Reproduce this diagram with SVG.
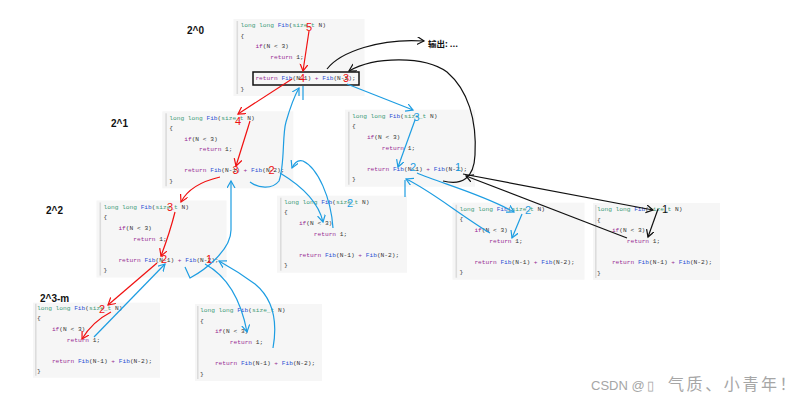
<svg xmlns="http://www.w3.org/2000/svg" width="812" height="404" viewBox="0 0 812 404">
<style>
.bg{fill:#f6f6f6}
.bar{fill:#dcdcdc}
.c{font-family:"Liberation Mono",monospace;font-size:6.2px;fill:#333}
.k{fill:#3d9a76}
.f{fill:#2b4fd4}
.p{fill:#972a93}
.lvl{font-family:"Liberation Sans",Arial,sans-serif;font-size:10px;font-weight:bold;fill:#111}
.num{font-family:"Liberation Sans",Arial,sans-serif;font-size:11px;text-anchor:middle}
.r{fill:none;stroke:#f01010;stroke-width:1.2}
.b{fill:none;stroke:#1d9de2;stroke-width:1.2}
.blk{fill:none;stroke:#111;stroke-width:1.2}
</style>
<defs>
<marker id="mr" markerUnits="userSpaceOnUse" markerWidth="10" markerHeight="10" refX="7" refY="4" orient="auto" viewBox="0 0 10 10"><path d="M0,0 L7,4 L0,8" fill="none" stroke="#f01010" stroke-width="1.2"/></marker>
<marker id="mb" markerUnits="userSpaceOnUse" markerWidth="10" markerHeight="10" refX="7" refY="4" orient="auto" viewBox="0 0 10 10"><path d="M0,0 L7,4 L0,8" fill="none" stroke="#1d9de2" stroke-width="1.2"/></marker>
<marker id="mk" markerUnits="userSpaceOnUse" markerWidth="10" markerHeight="10" refX="7" refY="4" orient="auto" viewBox="0 0 10 10"><path d="M0,0 L7,4 L0,8" fill="none" stroke="#111" stroke-width="1.2"/></marker>
</defs>
<rect width="812" height="404" fill="#ffffff"/>

<g id="levels">
<text class="lvl" x="187" y="34">2^0</text>
<text class="lvl" x="111" y="127">2^1</text>
<text class="lvl" x="46" y="214">2^2</text>
<text class="lvl" x="40" y="302">2^3-m</text>
</g>

<g id="nodeA" transform="translate(240.5,25)">
<rect class="bg" x="-7" y="-6" width="131" height="77"/><rect class="bar" x="-4" y="-4" width="1.6" height="73"/>
<text class="c" y="2.2"><tspan class="k">long long</tspan> <tspan class="f">Fib</tspan>(<tspan class="k">size_t</tspan> N)</text>
<text class="c" y="12.8">{</text>
<text class="c" x="14.9" y="23.4"><tspan class="p">if</tspan>(N &lt; 3)</text>
<text class="c" x="29.8" y="34"><tspan class="p">return</tspan> 1;</text>
<text class="c" x="14.9" y="55.2"><tspan class="p">return</tspan> <tspan class="f">Fib</tspan>(N-1) <tspan class="p">+</tspan> <tspan class="f">Fib</tspan>(N-2);</text>
<text class="c" y="65.8">}</text>
</g>

<g id="nodeB" transform="translate(169.3,117.3)">
<rect class="bg" x="-7" y="-6" width="131" height="77"/><rect class="bar" x="-4" y="-4" width="1.6" height="73"/>
<text class="c" y="2.2"><tspan class="k">long long</tspan> <tspan class="f">Fib</tspan>(<tspan class="k">size_t</tspan> N)</text>
<text class="c" y="12.8">{</text>
<text class="c" x="14.9" y="23.4"><tspan class="p">if</tspan>(N &lt; 3)</text>
<text class="c" x="29.8" y="34"><tspan class="p">return</tspan> 1;</text>
<text class="c" x="14.9" y="55.2"><tspan class="p">return</tspan> <tspan class="f">Fib</tspan>(N-1) <tspan class="p">+</tspan> <tspan class="f">Fib</tspan>(N-2);</text>
<text class="c" y="65.8">}</text>
</g>

<g id="nodeC" transform="translate(352,115.7)">
<rect class="bg" x="-7" y="-6" width="130" height="77"/><rect class="bar" x="-4" y="-4" width="1.6" height="73"/>
<text class="c" y="2.2"><tspan class="k">long long</tspan> <tspan class="f">Fib</tspan>(<tspan class="k">size_t</tspan> N)</text>
<text class="c" y="12.8">{</text>
<text class="c" x="14.9" y="23.4"><tspan class="p">if</tspan>(N &lt; 3)</text>
<text class="c" x="29.8" y="34"><tspan class="p">return</tspan> 1;</text>
<text class="c" x="14.9" y="55.2"><tspan class="p">return</tspan> <tspan class="f">Fib</tspan>(N-1) <tspan class="p">+</tspan> <tspan class="f">Fib</tspan>(N-2);</text>
<text class="c" y="65.8">}</text>
</g>

<g id="nodeD" transform="translate(103.5,206.5)">
<rect class="bg" x="-7" y="-6" width="130" height="77"/><rect class="bar" x="-4" y="-4" width="1.6" height="73"/>
<text class="c" y="2.2"><tspan class="k">long long</tspan> <tspan class="f">Fib</tspan>(<tspan class="k">size_t</tspan> N)</text>
<text class="c" y="12.8">{</text>
<text class="c" x="14.9" y="23.4"><tspan class="p">if</tspan>(N &lt; 3)</text>
<text class="c" x="29.8" y="34"><tspan class="p">return</tspan> 1;</text>
<text class="c" x="14.9" y="55.2"><tspan class="p">return</tspan> <tspan class="f">Fib</tspan>(N-1) <tspan class="p">+</tspan> <tspan class="f">Fib</tspan>(N-2);</text>
<text class="c" y="65.8">}</text>
</g>

<g id="nodeE" transform="translate(284,201.7)">
<rect class="bg" x="-7" y="-6" width="130" height="77"/><rect class="bar" x="-4" y="-4" width="1.6" height="73"/>
<text class="c" y="2.2"><tspan class="k">long long</tspan> <tspan class="f">Fib</tspan>(<tspan class="k">size_t</tspan> N)</text>
<text class="c" y="12.8">{</text>
<text class="c" x="14.9" y="23.4"><tspan class="p">if</tspan>(N &lt; 3)</text>
<text class="c" x="29.8" y="34"><tspan class="p">return</tspan> 1;</text>
<text class="c" x="14.9" y="55.2"><tspan class="p">return</tspan> <tspan class="f">Fib</tspan>(N-1) <tspan class="p">+</tspan> <tspan class="f">Fib</tspan>(N-2);</text>
<text class="c" y="65.8">}</text>
</g>

<g id="nodeF" transform="translate(459.5,208.7)">
<rect class="bg" x="-7" y="-6" width="132" height="77"/><rect class="bar" x="-4" y="-4" width="1.6" height="73"/>
<text class="c" y="2.2"><tspan class="k">long long</tspan> <tspan class="f">Fib</tspan>(<tspan class="k">size_t</tspan> N)</text>
<text class="c" y="12.8">{</text>
<text class="c" x="14.9" y="23.4"><tspan class="p">if</tspan>(N &lt; 3)</text>
<text class="c" x="29.8" y="34"><tspan class="p">return</tspan> 1;</text>
<text class="c" x="14.9" y="55.2"><tspan class="p">return</tspan> <tspan class="f">Fib</tspan>(N-1) <tspan class="p">+</tspan> <tspan class="f">Fib</tspan>(N-2);</text>
<text class="c" y="65.8">}</text>
</g>

<g id="nodeG" transform="translate(597,209)">
<rect class="bg" x="-4" y="-6" width="127" height="77"/><rect class="bar" x="-2" y="-4" width="1.6" height="73"/>
<text class="c" y="2.2"><tspan class="k">long long</tspan> <tspan class="f">Fib</tspan>(<tspan class="k">size_t</tspan> N)</text>
<text class="c" y="12.8">{</text>
<text class="c" x="14.9" y="23.4"><tspan class="p">if</tspan>(N &lt; 3)</text>
<text class="c" x="29.8" y="34"><tspan class="p">return</tspan> 1;</text>
<text class="c" x="14.9" y="55.2"><tspan class="p">return</tspan> <tspan class="f">Fib</tspan>(N-1) <tspan class="p">+</tspan> <tspan class="f">Fib</tspan>(N-2);</text>
<text class="c" y="65.8">}</text>
</g>

<g id="nodeH" transform="translate(37,307.7)">
<rect class="bg" x="-4" y="-5" width="127" height="75"/><rect class="bar" x="-2" y="-4" width="1.6" height="72"/>
<text class="c" y="2.2"><tspan class="k">long long</tspan> <tspan class="f">Fib</tspan>(<tspan class="k">size_t</tspan> N)</text>
<text class="c" y="12.8">{</text>
<text class="c" x="14.9" y="23.4"><tspan class="p">if</tspan>(N &lt; 3)</text>
<text class="c" x="29.8" y="34"><tspan class="p">return</tspan> 1;</text>
<text class="c" x="14.9" y="55.2"><tspan class="p">return</tspan> <tspan class="f">Fib</tspan>(N-1) <tspan class="p">+</tspan> <tspan class="f">Fib</tspan>(N-2);</text>
<text class="c" y="65.8">}</text>
</g>

<g id="nodeI" transform="translate(200,310)">
<rect class="bg" x="-5" y="-6" width="127" height="77"/><rect class="bar" x="-3" y="-4" width="1.6" height="73"/>
<text class="c" y="2.2"><tspan class="k">long long</tspan> <tspan class="f">Fib</tspan>(<tspan class="k">size_t</tspan> N)</text>
<text class="c" y="12.8">{</text>
<text class="c" x="14.9" y="23.4"><tspan class="p">if</tspan>(N &lt; 3)</text>
<text class="c" x="29.8" y="34"><tspan class="p">return</tspan> 1;</text>
<text class="c" x="14.9" y="55.2"><tspan class="p">return</tspan> <tspan class="f">Fib</tspan>(N-1) <tspan class="p">+</tspan> <tspan class="f">Fib</tspan>(N-2);</text>
<text class="c" y="65.8">}</text>
</g>

<g id="output">
<text x="428" y="47" font-family="'Noto Sans CJK SC','Liberation Sans',sans-serif" font-size="8.5" font-weight="bold" fill="#111">输出: ...</text>
</g>

<g id="connectors">
<rect x="253" y="72" width="106" height="13" fill="none" stroke="#111" stroke-width="1.5"/>
<path class="r" d="M309,31 L303,71" marker-end="url(#mr)"/>
<path class="r" d="M292,79 L238,114" marker-end="url(#mr)"/>
<path class="r" d="M250,121 L236,166" marker-end="url(#mr)"/>
<path class="r" d="M220,177 Q190,184 181,202" marker-end="url(#mr)"/>
<path class="r" d="M175,212 Q170,232 161,256" marker-end="url(#mr)"/>
<path class="r" d="M157,263 L108,305" marker-end="url(#mr)"/>
<path class="r" d="M111,312 Q92,322 82,339" marker-end="url(#mr)"/>
<path class="b" d="M94,337 L165,264" marker-end="url(#mb)"/>
<path class="b" d="M185,267 L190,278 C205,270 231,250 231,230 L231,181" marker-end="url(#mb)"/>
<path class="b" d="M205,264 C225,275 240,295 247,332" marker-end="url(#mb)"/>
<path class="b" d="M273,348 C278,320 272,298 255,284 C240,273 228,266 219,261" marker-end="url(#mb)"/>
<path class="b" d="M280,173 C300,185 318,200 323,222" marker-end="url(#mb)"/>
<path class="b" d="M333,228 C331,198 318,168 303,161 Q296,159 292,168" marker-end="url(#mb)"/>
<path class="b" d="M250,182 C258,188 272,190 279,181 C285,165 282,135 286,122 C290,108 295,95 299,88" marker-end="url(#mb)"/>
<path class="b" d="M303,100 L303,86"/>
<path class="b" d="M347,84 L413,110" marker-end="url(#mb)"/>
<path class="b" d="M415,120 L398,167" marker-end="url(#mb)"/>
<path class="b" d="M417,173 C440,183 482,194 514,212" marker-end="url(#mb)"/>
<path class="b" d="M522,214 L512,238" marker-end="url(#mb)"/>
<path class="b" d="M490,233 C460,215 430,190 406,179" marker-end="url(#mb)"/>
<path class="b" d="M405,180 L405,197"/>
<path class="blk" d="M327,69 C340,52 380,38 424,41" marker-end="url(#mk)"/>
<path class="blk" d="M443,181 C462,186 474,178 475,155 C477,120 468,90 447,72 C425,56 375,56 349,71" marker-end="url(#mk)"/>
<path class="blk" d="M463,174 L653,210" marker-end="url(#mk)" stroke-width="1.5"/>
<path class="blk" d="M627,238 L466,176" marker-end="url(#mk)" stroke-width="1.5"/>
<path class="blk" d="M658,209 L648,237" marker-end="url(#mk)"/>
<g fill="#f01010">
<text class="num" x="309" y="31">5</text>
<text class="num" x="302" y="82">4</text>
<text class="num" x="346" y="82">3</text>
<text class="num" x="238" y="125">4</text>
<text class="num" x="235.5" y="174">3</text>
<text class="num" x="271.5" y="174">2</text>
<text class="num" x="170" y="211">3</text>
<text class="num" x="164" y="263">2</text>
<text class="num" x="209" y="263">1</text>
<text class="num" x="102" y="313">2</text>
</g>
<g fill="#1d9de2">
<text class="num" x="416.5" y="121">3</text>
<text class="num" x="413" y="171">2</text>
<text class="num" x="458" y="171">1</text>
<text class="num" x="350" y="207">2</text>
<text class="num" x="528" y="214">2</text>
</g>
<text class="num" x="665" y="213" fill="#111">1</text>
</g>

<text y="390" fill="#a6a6a6" font-family="'Liberation Sans','Noto Sans CJK SC',sans-serif"><tspan x="591" font-size="13">CSDN @</tspan><tspan x="647" font-size="13">▯</tspan><tspan x="668" font-size="16" letter-spacing="2.6" font-family="'Noto Sans CJK SC',sans-serif">气质、小青年！</tspan></text>
</svg>
